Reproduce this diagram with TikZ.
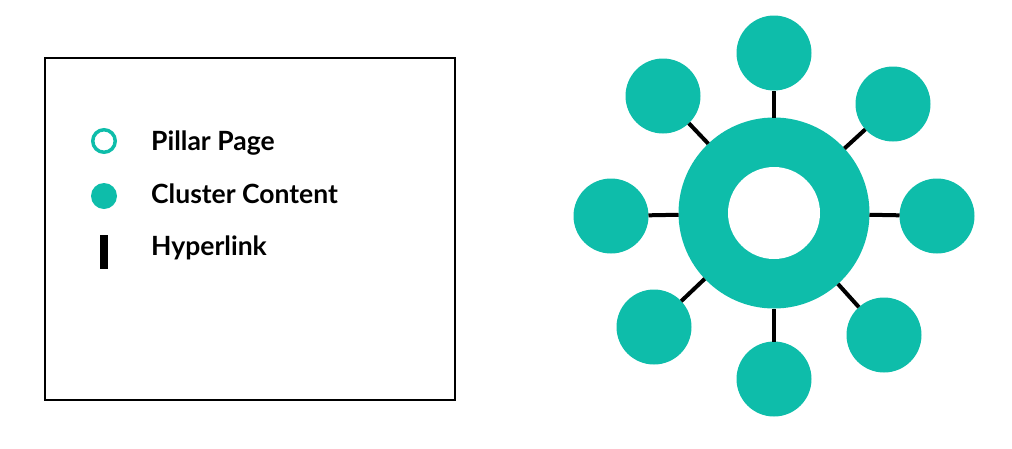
\documentclass[tikz,border=0pt]{standalone}
\usepackage{fontspec}
\setmainfont{Lato}
\usepackage{tikz}

\definecolor{teal1}{RGB}{14,189,170}

\tikzset{
	cluster/.style={circle,fill=teal1,minimum size=75pt,inner sep=0pt,outer sep=0pt},
	link/.style={line width=4pt,black},
	legendtext/.style={anchor=base west,font=\fontsize{26.5}{30}\selectfont\bfseries,inner sep=0pt}
}

\begin{document}
\begin{tikzpicture}[x=1pt,y=-1pt]
	\useasboundingbox (0,0) rectangle (1012,448);
	% draw legend box
	\draw[line width=2.5pt] (45,58) rectangle (455,400);
	\node[circle,draw=teal1,line width=3.5pt,minimum size=22.5pt,inner sep=0pt] (pillar) at (104,141) {};
	\node[circle,fill=teal1,minimum size=26pt,inner sep=0pt] (cluster) at (104,196) {};
	\node[fill=black,minimum width=8pt,minimum height=34pt,inner sep=0pt] (hyper) at (104,252) {};
	\node[legendtext] (pillartext) at (151,150) {Pillar Page};
	\node[legendtext] (clustertext) at (151,203) {Cluster Content};
	\node[legendtext] (hypertext) at (151,255) {Hyperlink};
	% draw hub
	\node[circle,fill=teal1,minimum size=191pt,inner sep=0pt,outer sep=0pt] (hub) at (774,213) {};
	\node[circle,fill=white,minimum size=92pt,inner sep=0pt] (hole) at (hub) {};
	% draw cluster pages and links
	\foreach \name/\x/\y in {top/774/53,upright/893/104,right/937/216,lowright/884/335,
		bottom/774/379,lowleft/654/327,left/611/216,upleft/663/96}
	{
		\node[cluster] (\name) at (\x,\y) {};
		\draw[link] (hub) -- (\name);
	}
\end{tikzpicture}
\end{document}
